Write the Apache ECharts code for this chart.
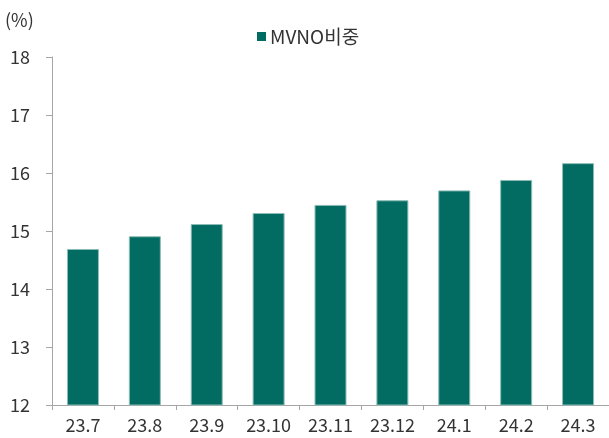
<!DOCTYPE html>
<html>
<head>
<meta charset="utf-8">
<script src="https://cdn.jsdelivr.net/npm/echarts@6/dist/echarts.min.js"></script>
<style>
html,body{margin:0;padding:0;background:#fff;}
#chart{width:609px;height:438px;}
</style>
</head>
<body>
<div id="chart"></div>
<script>
// 월별 MVNO 비중
var months = ['23.7','23.8','23.9','23.10','23.11','23.12','24.1','24.2','24.3'];
var mvnoShare = [14.69, 14.91, 15.12, 15.31, 15.45, 15.53, 15.70, 15.88, 16.17];
var seriesName = 'MVNO비중';

var font = "'Noto Sans CJK KR', sans-serif";
var myChart = echarts.init(document.getElementById('chart'));

var option = {
	animation: false,
	textStyle: {fontFamily: font},
	grid: {left: 52, right: -7, top: 57, bottom: 33, containLabel: false},
	legend: {
		data: [seriesName],
		left: 252, top: 22,
		itemWidth: 9, itemHeight: 9, itemGap: 4,
		icon: 'rect',
		itemStyle: {borderWidth: 0, color: '#036c62'},
		textStyle: {fontSize: 19, color: '#333', fontFamily: font, padding: [0,0,0,-1]}
	},
	graphic: [{
		type: 'text', left: 5, top: 11,
		style: {text: '(%)', fontSize: 18, fill: '#333', fontFamily: font}
	}],
	xAxis: {
		type: 'category',
		data: months,
		axisLine: {lineStyle: {color: '#a6a6a6', width: 1}},
		axisTick: {show: true, length: 5, lineStyle: {color: '#a6a6a6'}},
		axisLabel: {fontSize: 18, color: '#333', margin: 11, interval: 0}
	},
	yAxis: {
		type: 'value',
		min: 12, max: 18, interval: 1,
		splitLine: {show: false},
		axisLine: {show: true, lineStyle: {color: '#a6a6a6', width: 1}},
		axisTick: {show: true, length: 6, lineStyle: {color: '#a6a6a6'}},
		axisLabel: {fontSize: 18, color: '#333', margin: 22}
	},
	series: [{
		name: seriesName,
		type: 'bar',
		data: mvnoShare,
		barWidth: 32,
		itemStyle: {color: '#036c62', borderColor: '#8dbdb6', borderWidth: 1}
	}]
};
myChart.setOption(option, true);
</script>
</body>
</html>
